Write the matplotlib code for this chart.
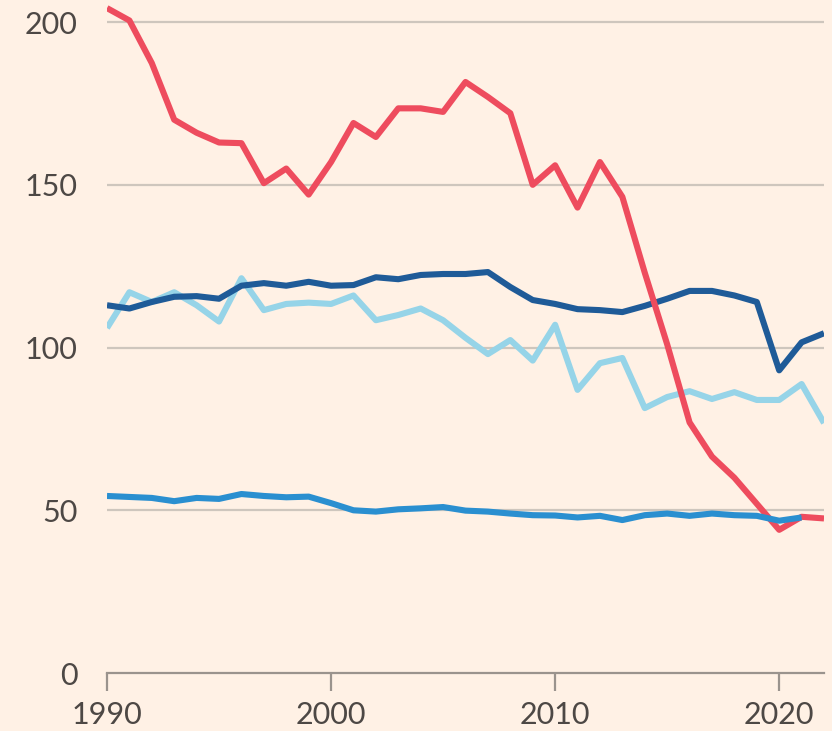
import matplotlib.pyplot as plt

# Données
years = list(range(1990, 2023))

red = [204.3, 200.5, 187.4, 170, 166, 163, 162.8, 150.5, 155, 147,
       157, 169, 164.7, 173.5, 173.5, 172.4, 181.6, 177, 172, 150,
       156, 143, 157, 146.3, 123, 101, 77, 66.5, 60, 52,
       44, 48, 47.5]

dark_blue = [113, 112, 114, 115.6, 115.8, 115, 119, 119.8, 119, 120.2,
             119, 119.2, 121.6, 121, 122.3, 122.6, 122.6, 123.2, 118.6, 114.6,
             113.4, 111.8, 111.5, 110.9, 112.8, 115, 117.4, 117.4, 116, 114,
             93, 101.6, 104.4]

light_blue = [106, 117, 114, 117, 113, 108, 121.3, 111.5, 113.4, 113.8,
              113.4, 116, 108.4, 110, 112, 108.4, 103, 98, 102.3, 96,
              107, 87, 95.2, 96.8, 81.4, 84.8, 86.6, 84.2, 86.3, 83.9,
              83.9, 88.8, 76.8]

mid_blue_years = list(range(1990, 2022))
mid_blue = [54.4, 54.1, 53.8, 52.8, 53.8, 53.5, 55, 54.4, 54, 54.2,
            52.2, 50, 49.6, 50.3, 50.6, 51, 49.9, 49.6, 49, 48.5,
            48.4, 47.8, 48.3, 47, 48.5, 49, 48.3, 49, 48.5, 48.3,
            46.8, 47.8]

x_ticks = [1990, 2000, 2010, 2020]
y_ticks = [0, 50, 100, 150, 200]

BG = '#FFF1E5'
TEXT = '#4D4845'
GRID = '#CEC6BD'

fig = plt.figure(figsize=(8.32, 7.31), dpi=100, facecolor=BG)
ax = fig.add_axes([0.1286, 0.0793, 0.8618, 0.9172], facecolor=BG)

kw = dict(linewidth=4.4, solid_joinstyle='round', solid_capstyle='butt')
ax.plot(years, light_blue, color='#96D4E8', **kw)
ax.plot(years, dark_blue, color='#1F5B98', **kw)
ax.plot(years, red, color='#EE4C5E', **kw)
ax.plot(mid_blue_years, mid_blue, color='#2A8FD0', **kw)

ax.set_xlim(1990, 2022)
ax.set_ylim(0, 206)

for y in y_ticks[1:]:
    ax.axhline(y, color=GRID, linewidth=1.6, zorder=0)

for s in ['top', 'right', 'left']:
    ax.spines[s].set_visible(False)
ax.spines['bottom'].set_color('#9A938D')
ax.spines['bottom'].set_linewidth(1.6)

ax.set_yticks(y_ticks)
ax.set_yticklabels([str(v) for v in y_ticks])
ax.set_xticks(x_ticks)
ax.set_xticklabels([str(v) for v in x_ticks])

ax.tick_params(axis='y', length=0, pad=21, labelsize=22, labelcolor=TEXT)
ax.tick_params(axis='x', length=13, width=1.6, color='#9A938D', pad=7,
               labelsize=22, labelcolor=TEXT)
for lab in ax.get_xticklabels() + ax.get_yticklabels():
    lab.set_fontfamily('Lato')

fig.savefig('out.png', dpi=100, facecolor=BG)
